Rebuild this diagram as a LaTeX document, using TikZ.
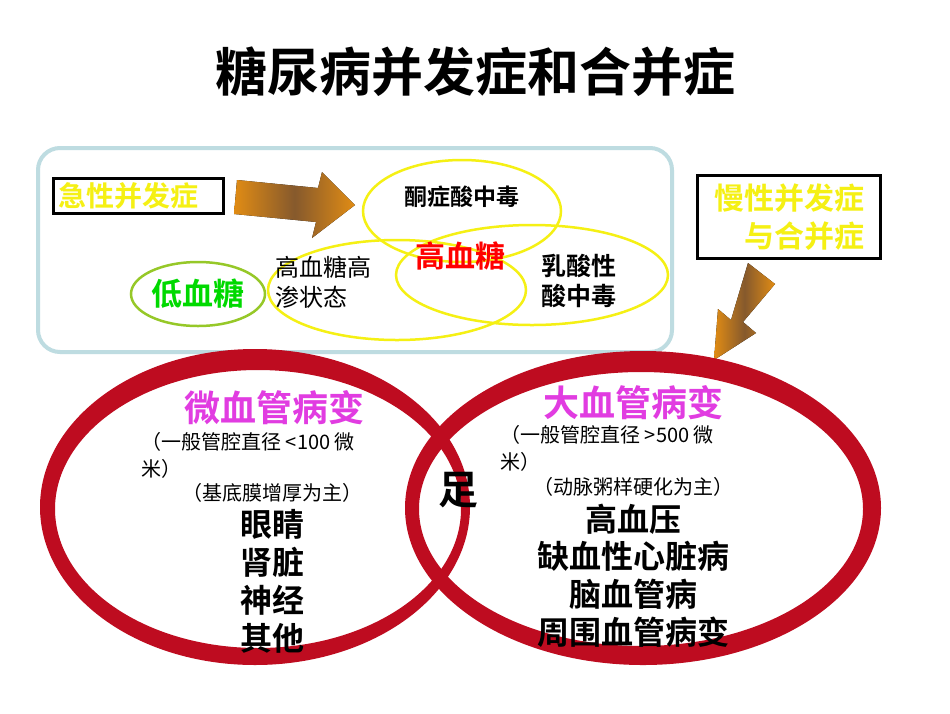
\documentclass[tikz,border=0pt]{standalone}
\usepackage{fontspec}
\setmainfont{Noto Sans CJK SC}
\newfontfamily\cjkb{Noto Sans CJK SC Bold}
\usetikzlibrary{shapes.geometric}
\definecolor{ringred}{RGB}{190,12,32}
\definecolor{boxblue}{RGB}{190,220,225}
\definecolor{ylw}{RGB}{245,240,20}
\definecolor{grn}{RGB}{150,200,40}
\definecolor{mag}{RGB}{225,60,225}
\definecolor{orng}{RGB}{225,140,20}
\tikzset{
  yel/.style={draw=ylw,line width=2.5pt},
  lbl/.style={font=\cjkb\fontsize{23}{30}\selectfont},
  item/.style={font=\cjkb\fontsize{32}{34}\selectfont},
  small/.style={font=\fontsize{20}{27}\selectfont},
  yt/.style={font=\cjkb\fontsize{28}{34}\selectfont,text=ylw},
}
\begin{document}
\begin{tikzpicture}[x=1pt,y=-1pt]
\useasboundingbox[fill=white] (0,0) rectangle (950,713);
\node[font=\cjkb\fontsize{52}{56}\selectfont] (title) at (475,72) {糖尿病并发症和合并症};
% top box
\draw[boxblue,line width=4pt,rounded corners=22pt] (38,148) rectangle (672,352);
\node[draw=black,line width=2.5pt,minimum width=170pt,minimum height=35pt,anchor=west,yt,inner sep=4pt,text width=160pt] (acute) at (52,196) {急性并发症};
\fill[left color=orng,right color=orng,middle color=brown!70!black] (237,180) -- (318,188) -- (322,172) -- (355,205) -- (312,238) -- (316,222) -- (234,214) -- cycle;
\draw[yel] (462,211) ellipse (99pt and 51pt);
\draw[yel] (397,290) ellipse (129pt and 50pt);
\draw[yel] (532,275) ellipse (136pt and 50pt);
\draw[draw=grn,line width=2.5pt] (198,294) ellipse (67pt and 32pt);
\node[lbl] (ket) at (462,197) {酮症酸中毒};
\node[font=\cjkb\fontsize{30}{34}\selectfont,text=red] (hyper) at (460,256) {高血糖};
\node[anchor=west,align=left,font=\fontsize{24}{30}\selectfont] (hhs) at (272,282) {高血糖高\\渗状态};
\node[anchor=west,align=left,font=\cjkb\fontsize{25}{30}\selectfont] (lac) at (538,281) {乳酸性\\酸中毒};
\node[font=\cjkb\fontsize{31}{34}\selectfont,text=green!85!black] (hypo) at (198,294) {低血糖};
% chronic box
\node[draw=black,line width=2.5pt,minimum width=183pt,minimum height=83pt,yt,align=right,font=\cjkb\fontsize{30}{38}\selectfont] (chron) at (789,217) {慢性并发症\\与合并症};
\fill[left color=orng,right color=orng,middle color=brown!70!black] (748,263) -- (775,284) -- (743,322) -- (756,333) -- (714,360) -- (718,309) -- (731,320) -- cycle;
% rings
\fill[ringred,even odd rule] (255,507) ellipse (215pt and 158pt) (258,509) ellipse (203pt and 139pt);
\fill[ringred,even odd rule] (643,508) ellipse (238pt and 157pt) (641,509) ellipse (222pt and 137pt);
\node[font=\cjkb\fontsize{36}{40}\selectfont,text=mag] (micro) at (274,408) {微血管病变};
\node[small,anchor=west,align=left] (m1) at (138,455) {（一般管腔直径 <100 微\\米）};
\node[small] (m2) at (272,493) {（基底膜增厚为主）};
\node[item] (m3) at (272,524) {眼睛};
\node[item] (m4) at (272,562) {肾脏};
\node[item] (m5) at (272,600) {神经};
\node[item] (m6) at (272,638) {其他};
\node[font=\cjkb\fontsize{40}{44}\selectfont] (foot) at (458,490) {足};
\node[font=\cjkb\fontsize{36}{40}\selectfont,text=mag] (macro) at (633,403) {大血管病变};
\node[small,anchor=west,align=left] (M1) at (497,448) {（一般管腔直径 >500 微\\米）};
\node[small] (M2) at (633,487) {（动脉粥样硬化为主）};
\node[item] (M3) at (633,519) {高血压};
\node[item] (M4) at (633,556) {缺血性心脏病};
\node[item] (M5) at (633,594) {脑血管病};
\node[item] (M6) at (633,632) {周围血管病变};
\end{tikzpicture}
\end{document}
